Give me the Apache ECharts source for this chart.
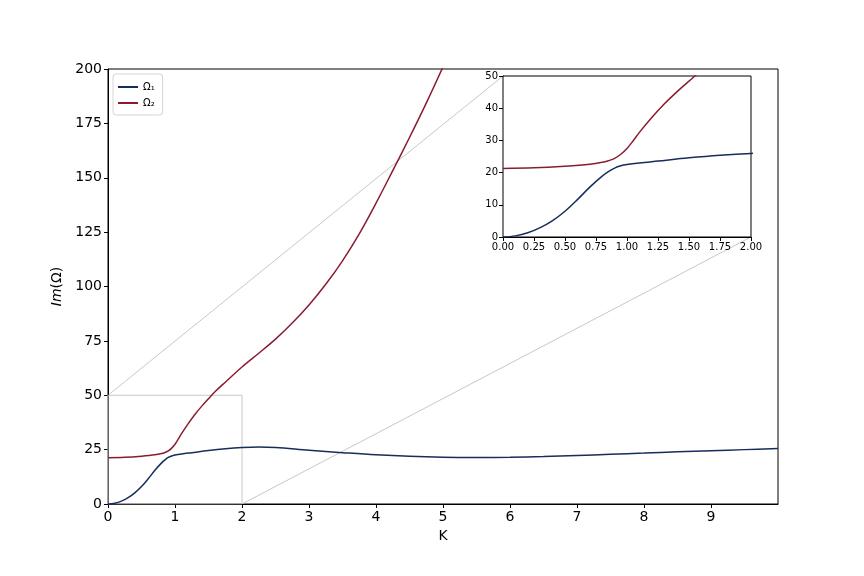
<!DOCTYPE html>
<html>
<head>
<meta charset="utf-8">
<script src="https://cdn.jsdelivr.net/npm/echarts@6/dist/echarts.min.js"></script>
<style>html,body{margin:0;padding:0;background:#fff}#c{width:864px;height:576px}</style>
</head>
<body>
<div id="c"></div>
<script>
// ---- data ----
var k1 = [0,0.1,0.2,0.3,0.4,0.5,0.6,0.7,0.8,0.85,0.9,0.95,1.0,1.1,1.25,1.5,1.75,2.0,2.25,2.5,3,3.5,4,4.5,5,5.5,6,6.5,7,7.5,8,8.5,9,9.5,10];
var omega1 = [0,0.35,1.3,2.9,5.1,8.0,11.6,15.5,18.9,20.3,21.4,22.1,22.5,23.0,23.6,24.6,25.4,25.95,26.2,26.0,24.7,23.6,22.6,21.9,21.5,21.4,21.5,21.8,22.3,22.85,23.4,24.0,24.5,25.0,25.5];
var k2 = [0,0.25,0.5,0.7,0.8,0.85,0.9,0.95,1.0,1.05,1.1,1.2,1.3,1.4,1.5,1.6,1.75,2.0,2.25,2.5,2.75,3.0,3.25,3.5,3.75,4.0,4.25,4.5,4.75,5.0];
var omega2 = [21.3,21.5,22.0,22.6,23.2,23.7,24.4,25.7,27.5,29.9,32.5,37.1,41.3,45.0,48.4,51.7,56.0,63.0,69.3,75.8,83.2,91.5,101.0,111.8,124.2,138.3,153.3,168.5,184.3,201];
var mainXTicks = [0,1,2,3,4,5,6,7,8,9];
var zoomBox = [[0,0],[0,50],[2,50],[2,0],[0,0]];

var BLUE = '#172d5c', RED = '#8a1c31', GRAY = '#c8c8c8';
function pairs(xs, ys){ return xs.map(function(x,i){ return [x, ys[i]]; }); }
var d1 = pairs(k1, omega1), d2 = pairs(k2, omega2);

var chart = echarts.init(document.getElementById('c'), null, {renderer:'canvas'});
var axisCommon = {
  axisLine:{show:true, onZero:false, lineStyle:{color:'#000', width:1}},
  axisTick:{show:true, inside:false, length:4, lineStyle:{color:'#000'}},
  splitLine:{show:false}
};
var font = 'DejaVu Sans';
var option = {
  animation:false,
  backgroundColor:'#fff',
  grid:[
    {left:108, top:69, width:670, height:435, show:true, borderColor:'#000', borderWidth:1, backgroundColor:'transparent'},
    {left:503, top:76, width:248, height:161, show:true, borderColor:'#000', borderWidth:1, backgroundColor:'#fff', z:5}
  ],
  legend:{
    left:113, top:74, orient:'vertical', itemGap:6, itemWidth:20, itemHeight:2,
    padding:[8,8,7,5], backgroundColor:'#fff', borderColor:'#d5d5d5', borderWidth:1, borderRadius:3,
    textStyle:{fontFamily:font, fontSize:10, color:'#000'},
    data:[{name:'Ω₁', icon:'rect'},{name:'Ω₂', icon:'rect'}]
  },
  xAxis:[
    Object.assign({}, axisCommon, {
      type:'value', gridIndex:0, min:0, max:10, interval:1,
      axisTick:{show:true, length:4, lineStyle:{color:'#000'}, customValues:mainXTicks},
      axisLabel:{fontFamily:font, fontSize:14, color:'#000', margin:6, customValues:mainXTicks},
      name:'K', nameLocation:'middle', nameGap:24,
      nameTextStyle:{fontFamily:font, fontSize:14, color:'#000'}
    }),
    Object.assign({}, axisCommon, {
      type:'value', gridIndex:1, min:0, max:2, interval:0.25,
      axisLabel:{fontFamily:font, fontSize:10, color:'#000', margin:5, formatter:function(v){return v.toFixed(2);}}
    })
  ],
  yAxis:[
    Object.assign({}, axisCommon, {
      type:'value', gridIndex:0, min:0, max:200, interval:25,
      axisLabel:{fontFamily:font, fontSize:14, color:'#000', margin:6},
      name:'{i|Im}(Ω)', nameLocation:'middle', nameGap:40, nameRotate:90,
      nameTextStyle:{fontFamily:font, fontSize:14, color:'#000',
        rich:{i:{fontFamily:font, fontSize:14, fontStyle:'italic', color:'#000'}}}
    }),
    Object.assign({}, axisCommon, {
      type:'value', gridIndex:1, min:0, max:50, interval:10,
      axisLabel:{fontFamily:font, fontSize:10, color:'#000', margin:5}
    })
  ],
  series:[
    {type:'line', name:'box', xAxisIndex:0, yAxisIndex:0, data:zoomBox, showSymbol:false, silent:true,
     lineStyle:{color:GRAY, width:1}, z:1},
    {type:'line', name:'Ω₁', xAxisIndex:0, yAxisIndex:0, data:d1, showSymbol:false, smooth:0.35,
     lineStyle:{color:BLUE, width:1.5}, itemStyle:{color:BLUE}, z:3},
    {type:'line', name:'Ω₂', xAxisIndex:0, yAxisIndex:0, data:d2, showSymbol:false, smooth:0.35,
     lineStyle:{color:RED, width:1.5}, itemStyle:{color:RED}, z:3},
    {type:'line', name:'in1', xAxisIndex:1, yAxisIndex:1, data:d1, showSymbol:false, smooth:0.35,
     lineStyle:{color:BLUE, width:1.5}, z:6},
    {type:'line', name:'in2', xAxisIndex:1, yAxisIndex:1, data:d2, showSymbol:false, smooth:0.35,
     lineStyle:{color:RED, width:1.5}, z:6}
  ]
};
chart.setOption(option);

// connector lines from the zoom box to the inset corners
var a1 = chart.convertToPixel({xAxisIndex:0, yAxisIndex:0}, [0,50]);
var b1 = chart.convertToPixel({xAxisIndex:1, yAxisIndex:1}, [0,50]);
var a2 = chart.convertToPixel({xAxisIndex:0, yAxisIndex:0}, [2,0]);
var b2 = chart.convertToPixel({xAxisIndex:1, yAxisIndex:1}, [2,0]);
chart.setOption({graphic:[
  {type:'line', z:0, shape:{x1:a1[0], y1:a1[1], x2:b1[0], y2:b1[1]}, style:{stroke:GRAY, lineWidth:1}},
  {type:'line', z:0, shape:{x1:a2[0], y1:a2[1], x2:b2[0], y2:b2[1]}, style:{stroke:GRAY, lineWidth:1}}
]});
</script>
</body>
</html>
